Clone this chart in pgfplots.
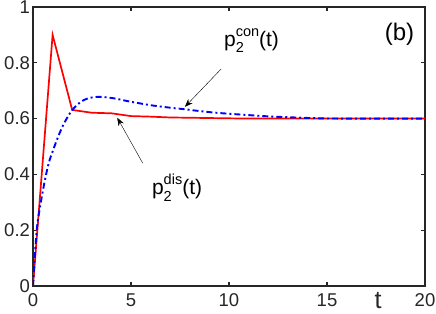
\documentclass[border=0pt]{standalone}
\usepackage{fontspec}
\setmainfont{Liberation Sans}
\usepackage{pgfplots}
\pgfplotsset{compat=1.18}
\usetikzlibrary{arrows.meta}
\definecolor{axgray}{RGB}{38,38,38}
\newcommand{\pl}[1]{p\rlap{\raisebox{-0.55ex}{\fontsize{14.5}{14.5}\selectfont 2}}\raisebox{0.95ex}{\fontsize{14.5}{14.5}\selectfont #1}(t)}
\begin{document}
\begin{tikzpicture}
\begin{axis}[
  scale only axis,
  width=392pt, height=279pt,
  xmin=0, xmax=20, ymin=0, ymax=1,
  xtick={0,5,10,15,20},
  ytick={0,0.2,0.4,0.6,0.8,1},
  tick align=inside,
  major tick length=4pt,
  axis line style={axgray, line width=1.2pt},
  every tick/.style={axgray, line width=1.2pt},
  tick label style={font=\fontsize{18.5}{18.5}\selectfont, text=axgray},
  /pgf/number format/assume math mode=true,
  xticklabel style={yshift=-4pt},
  yticklabel style={xshift=0.5pt},
  clip=true,
]
\addplot[red, line width=1.7pt] coordinates {
(0,0) (1,0.9) (2,0.631) (3,0.621) (4,0.619) (5,0.609) (6,0.607) (7,0.604)
(8,0.603) (9,0.602) (10,0.601) (11,0.6) (12,0.6) (13,0.6) (14,0.6) (15,0.6)
(16,0.6) (17,0.6) (18,0.6) (19,0.6) (20,0.6)
};
\addplot[blue, line width=1.9pt, dash pattern=on 6pt off 3pt on 2pt off 3pt, smooth] coordinates {
(0,0) (0.19,0.2) (0.4,0.3) (0.61,0.38) (0.8,0.44) (1.0,0.482) (1.2,0.52)
(1.4,0.555) (1.6,0.585) (1.97,0.628) (2.4,0.658) (2.82,0.673) (3.4,0.678)
(4.1,0.673) (4.8,0.663) (5.5,0.654) (6.1,0.647) (7,0.639) (7.8,0.633)
(8.5,0.627) (9.5,0.62) (10.9,0.613) (12,0.608) (13,0.605) (14.6,0.601)
(16,0.6) (18,0.6) (20,0.6)
};
\draw[-{Stealth[length=8pt,width=6pt]}, black, line width=0.4pt] (axis cs:9.6,0.778) -- (axis cs:7.75,0.642);
\draw[-{Stealth[length=8pt,width=6pt]}, black, line width=0.4pt] (axis cs:5.6,0.44) -- (axis cs:4.3,0.603);
\node[font=\fontsize{21}{21}\selectfont] at (axis cs:11.15,0.88) {\pl{con}};
\node[font=\fontsize{21}{21}\selectfont] at (axis cs:7.35,0.353) {\pl{dis}};
\node[font=\fontsize{24}{24}\selectfont] at (axis cs:18.7,0.903) {(b)};
\end{axis}
\node[font=\fontsize{25}{25}\selectfont, text=axgray, inner sep=0pt, anchor=base] at (345pt,-22.5pt) {t};
\pgfresetboundingbox
\useasboundingbox (-33pt,-27pt) rectangle (403pt,286pt);
\end{tikzpicture}
\end{document}
